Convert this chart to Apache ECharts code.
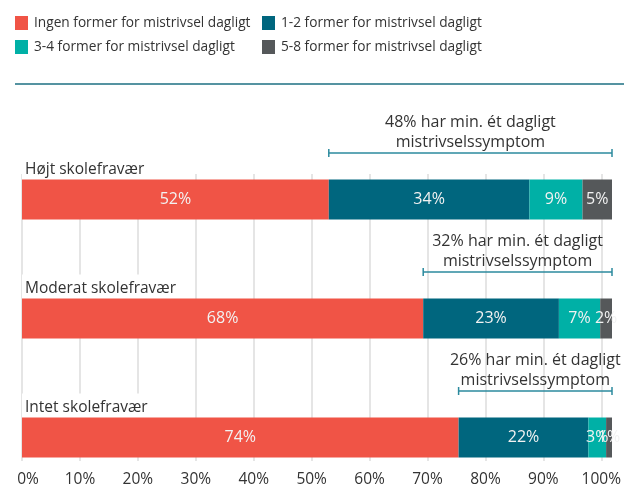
<!DOCTYPE html>
<html>
<head>
<meta charset="utf-8">
<script src="https://cdn.jsdelivr.net/npm/echarts@6/dist/echarts.min.js"></script>
<style>
  html, body { margin: 0; padding: 0; background: #fff; }
  #chart { width: 624px; height: 488px; }
</style>
</head>
<body>
<div id="chart"></div>
<script>
  // data
  var categories = ['Højt skolefravær', 'Moderat skolefravær', 'Intet skolefravær'];
  var seriesNames = [
    'Ingen former for mistrivsel dagligt',
    '1-2 former for mistrivsel dagligt',
    '3-4 former for mistrivsel dagligt',
    '5-8 former for mistrivsel dagligt'
  ];
  var ingen = [52, 68, 74];
  var former12 = [34, 23, 22];
  var former34 = [9, 7, 3];
  var former58 = [5, 2, 1];
  var symptomShare = [48, 32, 26];
  var xTicks = [0, 10, 20, 30, 40, 50, 60, 70, 80, 90, 100];

  var colors = ['#f05446', '#00667e', '#00b0a6', '#55585a'];
  var font = '"Open Sans", sans-serif';

  var bracketData = categories.map(function (c, i) {
    return [ingen[i], 100, i, symptomShare[i]];
  });

  function barSeries(name, data, color) {
    return {
      name: name,
      type: 'bar',
      stack: 'total',
      xAxisIndex: 0,
      yAxisIndex: 0,
      barWidth: 40,
      clip: false,
      z: 2,
      itemStyle: { color: color },
      label: {
        show: true,
        position: 'inside',
        formatter: '{c}%',
        color: '#f2f2f2',
        fontSize: 16,
        fontFamily: font
      },
      data: data
    };
  }

  var legendBase = {
    top: 16, orient: 'vertical', itemGap: 10, padding: 0,
    itemWidth: 13, itemHeight: 14, icon: 'rect',
    textStyle: { fontSize: 13.7, color: '#333', fontFamily: font, padding: [0, 0, 0, 1] }
  };

  var option = {
    animation: false,
    textStyle: { fontFamily: font },
    legend: [
      Object.assign({ left: 15, data: [seriesNames[0], seriesNames[2]] }, legendBase),
      Object.assign({ left: 262, data: [seriesNames[1], seriesNames[3]] }, legendBase)
    ],
    graphic: [
      {
        type: 'line',
        shape: { x1: 15, y1: 84, x2: 624, y2: 84 },
        style: { stroke: '#1c6f82', lineWidth: 1.5 }
      }
    ],
    grid: [
      { left: 22, right: 12, top: 199.5, bottom: 50.5 },
      { left: 22, right: 12, top: 174, bottom: 26 }
    ],
    xAxis: [
      { gridIndex: 0, type: 'value', min: 0, max: 100, show: false },
      {
        gridIndex: 1, type: 'value', min: 0, max: 100, interval: 10,
        z: 0,
        axisLine: { show: false },
        axisTick: { show: false },
        splitLine: { show: true, lineStyle: { color: '#dcdcdc', width: 1.5 } },
        axisLabel: {
          margin: 11,
          fontSize: 15.5,
          color: '#333',
          fontFamily: font,
          formatter: function (v) {
            if (xTicks.indexOf(v) < 0) return '';
            return v === 0 ? '{first|0%}' : v + '%';
          },
          rich: {
            first: { fontSize: 15.5, color: '#333', fontFamily: font, padding: [0, 0, 0, 12] }
          }
        }
      }
    ],
    yAxis: [
      {
        gridIndex: 0, type: 'category', inverse: true, boundaryGap: false,
        data: categories,
        z: 1,
        axisLine: { show: false },
        axisTick: { show: false },
        splitLine: { show: false },
        axisLabel: {
          inside: true,
          margin: 0,
          align: 'left',
          verticalAlign: 'bottom',
          fontSize: 15.5,
          lineHeight: 20,
          color: '#333',
          fontFamily: font,
          backgroundColor: '#fff',
          padding: [4, 6, 20, 3]
        }
      },
      { gridIndex: 1, type: 'value', show: false, min: 0, max: 1 }
    ],
    series: [
      barSeries(seriesNames[0], ingen, colors[0]),
      barSeries(seriesNames[1], former12, colors[1]),
      barSeries(seriesNames[2], former34, colors[2]),
      barSeries(seriesNames[3], former58, colors[3]),
      {
        type: 'custom',
        xAxisIndex: 0,
        yAxisIndex: 0,
        clip: false,
        z: 3,
        silent: true,
        data: bracketData,
        renderItem: function (params, api) {
          var p1 = api.coord([api.value(0), api.value(2)]);
          var p2 = api.coord([api.value(1), api.value(2)]);
          var y = p1[1] - 46.5;
          var stroke = { stroke: '#2b8a9e', lineWidth: 1.5 };
          return {
            type: 'group',
            children: [
              { type: 'line', shape: { x1: p1[0], y1: y, x2: p2[0], y2: y }, style: stroke },
              { type: 'line', shape: { x1: p1[0], y1: y - 4, x2: p1[0], y2: y + 4 }, style: stroke },
              { type: 'line', shape: { x1: p2[0], y1: y - 4, x2: p2[0], y2: y + 4 }, style: stroke },
              {
                type: 'text',
                style: {
                  x: (p1[0] + p2[0]) / 2,
                  y: y - 1,
                  text: api.value(3) + '% har min. ét dagligt\nmistrivselssymptom',
                  align: 'center',
                  verticalAlign: 'bottom',
                  fontSize: 16,
                  lineHeight: 20,
                  fontFamily: font,
                  fill: '#333'
                }
              }
            ]
          };
        }
      }
    ]
  };

  var chart = echarts.init(document.getElementById('chart'));
  chart.setOption(option);
</script>
</body>
</html>
